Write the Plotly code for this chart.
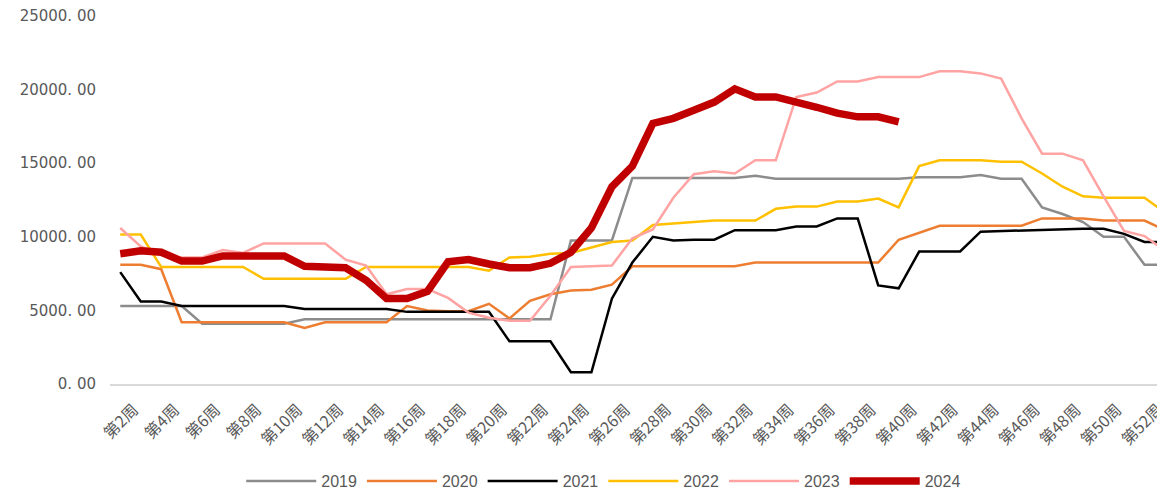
import plotly.graph_objects as go

weeks = [f"第{i}周" for i in range(1, 53)]
tick_weeks = [f"第{i}周" for i in range(2, 53, 2)]

y2019 = [5300, 5300, 5300, 5300, 4100, 4100, 4100, 4100, 4100, 4400,
         4400, 4400, 4400, 4400, 4400, 4400, 4400, 4400, 4400, 4400,
         4400, 4400, 9750, 9750, 9750, 14000, 14000, 14000, 14000, 14000,
         14000, 14150, 13950, 13950, 13950, 13950, 13950, 13950, 13950, 14050,
         14050, 14050, 14200, 13950, 13950, 12000, 11550, 11000, 10000, 10000,
         8100, 8100]
y2020 = [8100, 8100, 7800, 4200, 4200, 4200, 4200, 4200, 4200, 3800,
         4200, 4200, 4200, 4200, 5300, 5000, 4950, 4950, 5450, 4450,
         5650, 6100, 6350, 6400, 6750, 8000, 8000, 8000, 8000, 8000,
         8000, 8250, 8250, 8250, 8250, 8250, 8250, 8250, 9800, 10300,
         10750, 10750, 10750, 10750, 10750, 11250, 11250, 11250, 11100, 11100,
         11100, 10450]
y2021 = [7600, 5600, 5600, 5300, 5300, 5300, 5300, 5300, 5300, 5100,
         5100, 5100, 5100, 5100, 4900, 4900, 4900, 4900, 4900, 2900,
         2900, 2900, 800, 800, 5800, 8250, 10000, 9750, 9800, 9800,
         10450, 10450, 10450, 10700, 10700, 11250, 11250, 6700, 6500, 9000,
         9000, 9000, 10350, 10400, 10400, 10450, 10550, 10550, 10550, 10200,
         9650, 9650]
y2022 = [10150, 10150, 7950, 7950, 7950, 7950, 7950, 7150, 7150, 7150,
         7150, 7150, 7950, 7950, 7950, 7950, 7950, 7950, 7700, 8600,
         8650, 8850, 8900, 9300, 9650, 9750, 10800, 10900, 11000, 11100,
         11100, 11100, 11900, 12050, 12050, 12400, 12400, 12600, 12000, 14800,
         15200, 15200, 15200, 15100, 15100, 14300, 13400, 12750, 12650, 12650,
         12650, 11650]
y2023 = [10600, 9350, 8800, 8600, 8600, 9100, 8900, 9550, 9550, 9550,
         9550, 8450, 8050, 6100, 6450, 6450, 5850, 4850, 4500, 4300,
         4300, 6000, 7950, 8000, 8050, 9900, 10500, 12650, 14250, 14450,
         14300, 15200, 15200, 19500, 19800, 20550, 20550, 20850, 20850, 20850,
         21250, 21250, 21100, 20750, 18050, 15650, 15650, 15200, 12750, 10400,
         10050, 9050]
y2024 = [8850, 9050, 8950, 8350, 8350, 8700, 8700, 8700, 8700, 8000,
         7950, 7900, 7050, 5800, 5800, 6300, 8300, 8450, 8150, 7900,
         7900, 8200, 8950, 10600, 13400, 14800, 17700, 18050, 18600, 19150,
         20050, 19500, 19500, 19200, 18800, 18400, 18150, 18150, 17800]

y_ticks = [0, 5000, 10000, 15000, 20000, 25000]
y_ticktext = ["0. 00", "5000. 00", "10000. 00", "15000. 00", "20000. 00", "25000. 00"]

series = [
    ("2019", y2019, "#8c8c8c", 2.5),
    ("2020", y2020, "#ED7D31", 2.5),
    ("2021", y2021, "#000000", 2.5),
    ("2022", y2022, "#FFC000", 2.5),
    ("2023", y2023, "#FFA3A3", 2.5),
    ("2024", y2024, "#C00000", 7.5),
]

fig = go.Figure()
for name, ys, color, w in series:
    fig.add_trace(go.Scatter(
        x=weeks[:len(ys)], y=ys, name=name, mode="lines",
        line=dict(color=color, width=w),
    ))

# page body has an 8px margin; figure is sized so it fills the window
fig.update_layout(
    width=1157, height=484,
    margin=dict(l=102, r=0, t=8, b=108, autoexpand=False),
    plot_bgcolor="white", paper_bgcolor="white",
    font=dict(family="DejaVu Sans, Noto Sans CJK SC", color="#595959"),
    showlegend=True,
    legend=dict(
        orientation="h", x=0.468, xanchor="center",
        y=-0.264, yanchor="middle",
        font=dict(size=16, color="#595959", family="Liberation Sans"),
        itemwidth=70, traceorder="normal",
    ),
    xaxis=dict(
        type="category", categoryorder="array", categoryarray=weeks,
        range=[-0.5, 51], automargin=False, ticklabeloverflow="allow",
        tickmode="array", tickvals=tick_weeks, ticktext=tick_weeks,
        tickangle=-45, tickfont=dict(size=16, color="#595959",
                                     family="Noto Sans CJK SC"),
        ticklabelshift=-7, ticklabelstandoff=8,
        showgrid=False, showline=True, linecolor="#d9d9d9", linewidth=2,
        ticks="", zeroline=False,
    ),
    yaxis=dict(
        range=[0, 25000], tickmode="array", tickvals=y_ticks, automargin=False,
        ticklabeloverflow="allow",
        ticktext=y_ticktext, tickfont=dict(size=15, color="#595959"),
        showgrid=False, zeroline=False, showline=False, ticks="",
        ticklabelstandoff=13,
    ),
)

fig.write_html("out.html")
